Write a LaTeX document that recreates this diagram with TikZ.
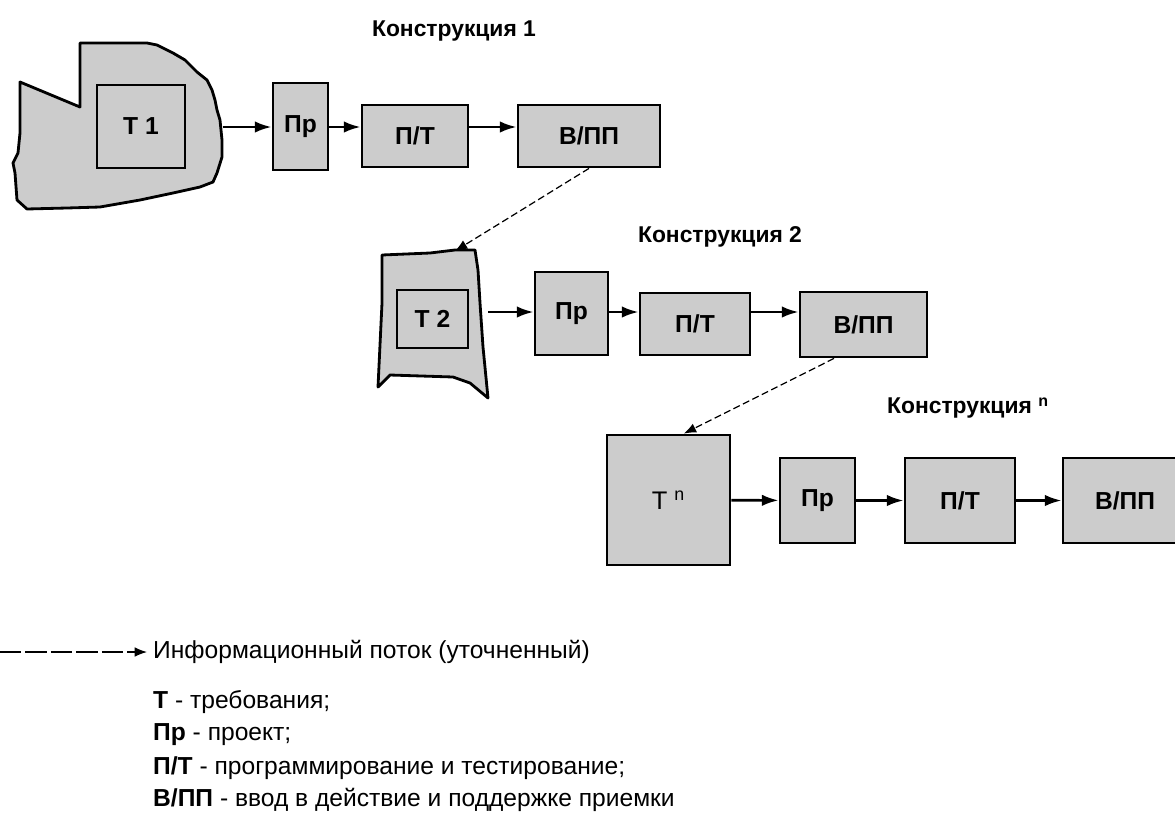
\documentclass[tikz,border=0pt]{standalone}
\usepackage{fontspec}
\setmainfont{Liberation Sans}
\usepackage{xcolor}
\usetikzlibrary{arrows.meta}
\definecolor{boxgray}{RGB}{204,204,204}

\begin{document}
\begin{tikzpicture}[x=0.02cm,y=-0.02cm,
blk/.style={draw,fill=boxgray,line width=1.6pt,inner sep=0pt,font=\fontsize{14}{16}\selectfont\bfseries},
blob/.style={draw,fill=boxgray,line width=1.6pt,line join=round},
flow/.style={line width=1.5pt,-{Latex[length=9.5pt,width=6.5pt]}},
info/.style={line width=0.7pt,dash pattern=on 4pt off 2pt,-{Latex[length=7pt,width=5.5pt]}},
ttl/.style={font=\fontsize{13}{15}\selectfont\bfseries},
lgd/.style={anchor=west,font=\fontsize{14}{16}\selectfont}]
\useasboundingbox (0,0) rectangle (1175,815);
%construction 1
\draw[blob](20,82)--(80,107)--(80,43)--(147,43)--(157,45)--(173,53)--(185,60)--(193,68)--(197,72)
--(207,80)--(212,90)--(215,100)--(217,110)--(220,120)--(222,140)--(222,157)--(217,173)--(213,182)
--(200,187)--(173,193)--(140,200)--(100,207)--(67,208)--(27,209)--(17,200)--(15,173)--(13,163)
--(18,153)--(20,133)--cycle;
\node[ttl] (k1) at (454,31) {Конструкция 1};
\node[blk,minimum width=1.76cm,minimum height=1.66cm] (t1) at (141,126.5) {Т 1};
\node[blk,minimum width=1.1cm,minimum height=1.74cm] (pr1) at (300.5,126.5) {Пр};
\node[blk,minimum width=2.12cm,minimum height=1.24cm] (pt1) at (415,136) {П/Т};
\node[blk,minimum width=2.84cm,minimum height=1.24cm] (vpp1) at (589,136) {В/ПП};
\coordinate (b1out) at (223,127);
\coordinate (row1) at (0,127);
\draw[flow] (b1out) -- (row1 -| pr1.west);
\draw[flow] (row1 -| pr1.east) -- (row1 -| pt1.west);
\draw[flow] (row1 -| pt1.east) -- (row1 -| vpp1.west);
%construction 2
\draw[blob](382,255)--(430,253)--(455,250)--(475,250)--(478,270)--(480,303)--(483,347)--(488,398)
--(470,383)--(453,377)--(390,375)--(378,387)--(382,303)--cycle;
\node[ttl] (k2) at (720,237) {Конструкция 2};
\node[blk,minimum width=1.42cm,minimum height=1.16cm] (t2) at (432.5,319) {Т 2};
\node[blk,minimum width=1.46cm,minimum height=1.66cm] (pr2) at (571.5,313.5) {Пр};
\node[blk,minimum width=2.2cm,minimum height=1.24cm] (pt2) at (695,324) {П/Т};
\node[blk,minimum width=2.54cm,minimum height=1.3cm] (vpp2) at (863.5,324.5) {В/ПП};
\coordinate (b2in) at (455,251);
\coordinate (b2out) at (488,312);
\coordinate (row2) at (0,312);
\draw[info] (vpp1.south) -- (b2in);
\draw[flow] (b2out) -- (row2 -| pr2.west);
\draw[flow] (row2 -| pr2.east) -- (row2 -| pt2.west);
\draw[flow] (row2 -| pt2.east) -- (row2 -| vpp2.west);
%construction n
\node[ttl] (kn) at (968,408) {Конструкция \textsuperscript{n}};
\node[blk,minimum width=2.46cm,minimum height=2.6cm,font=\fontsize{14.5}{16}\selectfont] (tn) at (668.5,500) {Т\hspace{4pt}\textsuperscript{n}};
\node[blk,minimum width=1.5cm,minimum height=1.7cm] (pr3) at (817.5,500.5) {Пр};
\node[blk,minimum width=2.2cm,minimum height=1.7cm] (pt3) at (960,500.5) {П/Т};
\node[blk,minimum width=2.48cm,minimum height=1.7cm] (vpp3) at (1125,500.5) {В/ПП};
\draw[info] (vpp2.229) -- (tn.77);
\draw[flow] (tn) -- (pr3);
\draw[flow] (pr3) -- (pt3);
\draw[flow] (pt3) -- (vpp3);
%legend
\coordinate (lg0) at (0,652);
\node[lgd] (lgi) at (147,652) {Информационный поток (уточненный)};
\draw[info,dash pattern=on 12pt off 2.5pt] (lg0) -- (lgi.west);
\node[lgd] (lgt) at (147,702) {\textbf{Т} - требования;};
\node[lgd] (lgpr) at (147,735) {\textbf{Пр} - проект;};
\node[lgd] (lgpt) at (147,768) {\textbf{П/Т} - программирование и тестирование;};
\node[lgd] (lgvpp) at (147,800) {\textbf{В/ПП} - ввод в действие и поддержке приемки};
\end{tikzpicture}
\end{document}
